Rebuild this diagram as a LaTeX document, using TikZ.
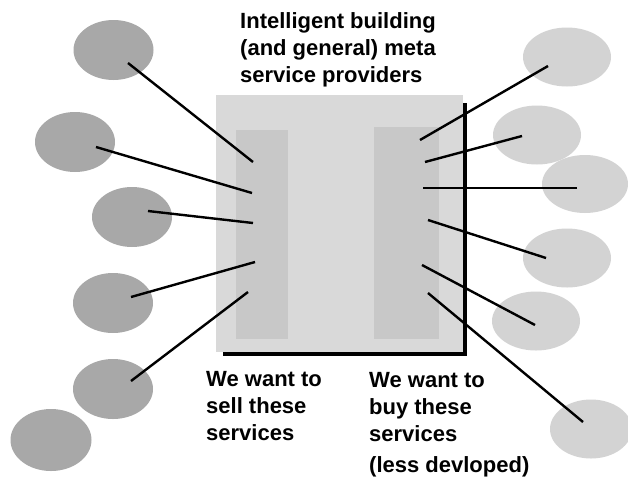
\documentclass[tikz,border=0pt]{standalone}
\usepackage{fontspec}
\setmainfont{Liberation Sans}
\usetikzlibrary{shapes.geometric}
\definecolor{darkell}{HTML}{A8A8A8}
\definecolor{lightell}{HTML}{D3D3D3}
\definecolor{boxgray}{HTML}{D9D9D9}
\definecolor{innergray}{HTML}{C8C8C8}
\begin{document}
\begin{tikzpicture}[x=1pt,y=-1pt,
  lell/.style={ellipse,fill=darkell,minimum width=80pt,minimum height=60pt,inner sep=0pt},
  rell/.style={ellipse,fill=lightell,minimum width=88pt,minimum height=59pt,inner sep=0pt},
  conn/.style={line width=2.4pt,black},
  lbl/.style={font=\fontsize{22}{26.8}\selectfont\bfseries,align=left,anchor=base west,inner sep=0pt}]
\useasboundingbox (0,0) rectangle (628,480);
% box with shadow
\fill[black] (223,103) rectangle (467,356);
\node[fill=boxgray,minimum width=247pt,minimum height=257pt,inner sep=0pt,anchor=north west] (box) at (216,95) {};
\node[fill=innergray,minimum width=52pt,minimum height=209pt,inner sep=0pt,anchor=north west] (sell) at (236,130) {};
\node[fill=innergray,minimum width=65pt,minimum height=212pt,inner sep=0pt,anchor=north west] (buy) at (374,127) {};
% left ellipses
\node[lell] (L1) at (113.5,50) {};
\node[lell] (L2) at (75,142) {};
\node[lell] (L3) at (132,217) {};
\node[lell] (L4) at (113,303) {};
\node[lell] (L5) at (113,389) {};
\node[lell,minimum width=81pt,minimum height=62pt] (L6) at (51,440) {};
% right ellipses
\node[rell] (R1) at (567,57) {};
\node[rell] (R2) at (537,135) {};
\node[rell,minimum width=86pt,minimum height=58pt] (R3) at (585,184) {};
\node[rell] (R4) at (567,258) {};
\node[rell] (R5) at (536,321) {};
\node[rell,minimum width=82pt] (R6) at (591,429) {};
% connector end points
\coordinate (l1) at (128,63);  \coordinate (s1) at (253,162);
\coordinate (l2) at (96,147);  \coordinate (s2) at (252,193);
\coordinate (l3) at (148,211); \coordinate (s3) at (253,223);
\coordinate (l4) at (131,297); \coordinate (s4) at (255,262);
\coordinate (l5) at (131,381); \coordinate (s5) at (248,292);
\coordinate (r1) at (548,66);  \coordinate (b1) at (420,140);
\coordinate (r2) at (522,136); \coordinate (b2) at (425,162);
\coordinate (r3) at (577,188); \coordinate (b3) at (423,188);
\coordinate (r4) at (546,258); \coordinate (b4) at (428,220);
\coordinate (r5) at (535,325); \coordinate (b5) at (422,265);
\coordinate (r6) at (583,422); \coordinate (b6) at (428,293);
\foreach \i in {1,...,5} {\draw[conn] (l\i) -- (s\i);}
\foreach \i in {1,...,6} {\draw[conn] (r\i) -- (b\i);}
% texts
\node[lbl] (title) at (240,82) {Intelligent building\\(and general) meta\\service providers};
\node[lbl] (selltxt) at (206,440) {We want to\\sell these\\services};
\node[lbl] (buytxt) at (369,441) {We want to\\buy these\\services};
\node[lbl] (less) at (369,472) {(less devloped)};
\end{tikzpicture}
\end{document}
